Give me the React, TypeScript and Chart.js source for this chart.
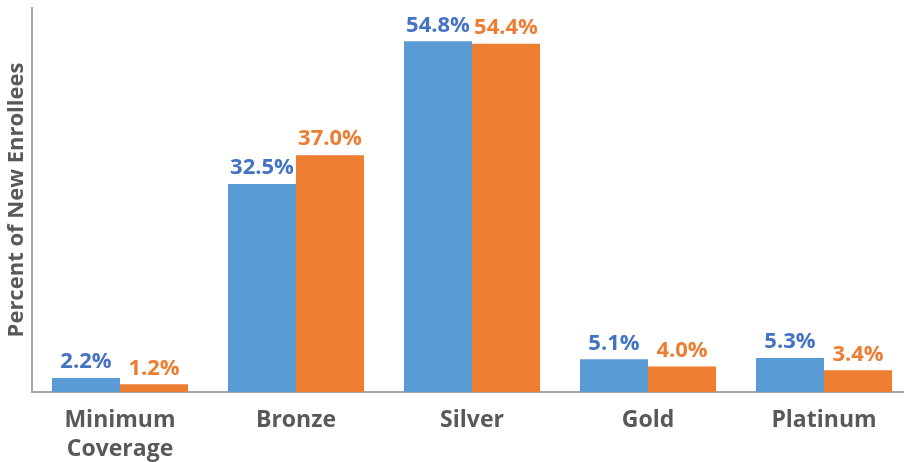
import React, { useEffect, useRef } from "react";
import { Chart, registerables } from "chart.js";

Chart.register(...registerables);

const categories: (string | string[])[] = [["Minimum", "Coverage"], "Bronze", "Silver", "Gold", "Platinum"];
const seriesA: number[] = [2.2, 32.5, 54.8, 5.1, 5.3];
const seriesB: number[] = [1.2, 37.0, 54.4, 4.0, 3.4];
const seriesAName = "Series 1";
const seriesBName = "Series 2";

const FONT = "'Open Sans', 'Noto Sans', sans-serif";

const labelPlugin = {
  id: "barValueLabels",
  afterDatasetsDraw(chart: any) {
    const ctx = chart.ctx;
    const colors = ["#4472C4", "#ED7D31"];
    chart.data.datasets.forEach((ds: any, i: number) => {
      const meta = chart.getDatasetMeta(i);
      meta.data.forEach((el: any, j: number) => {
        const v = ds.data[j] as number;
        ctx.save();
        ctx.font = `bold 22px ${FONT}`;
        ctx.fillStyle = colors[i];
        ctx.textAlign = "center";
        ctx.textBaseline = "bottom";
        ctx.fillText(v.toFixed(1) + "%", el.x, el.y - 5);
        ctx.restore();
      });
    });
  },
};

export default function App() {
  const ref = useRef<HTMLCanvasElement | null>(null);
  useEffect(() => {
    document.body.style.margin = "0";
    document.body.style.overflow = "hidden";
    if (!ref.current) return;
    const chart = new Chart(ref.current, {
      type: "bar",
      data: {
        labels: categories,
        datasets: [
          { label: seriesAName, data: seriesA, backgroundColor: "#5B9BD5", categoryPercentage: 0.773, barPercentage: 1 },
          { label: seriesBName, data: seriesB, backgroundColor: "#ED7D31", categoryPercentage: 0.773, barPercentage: 1 },
        ],
      },
      options: {
        responsive: false,
        animation: false,
        layout: { padding: { top: 8, left: 0, right: 0, bottom: 0 } },
        plugins: { legend: { display: false }, tooltip: { enabled: false } },
        scales: {
          x: {
            grid: { display: false, drawTicks: false },
            border: { display: true, color: "#A6A6A6", width: 2 },
            ticks: { color: "#595959", font: { family: FONT, size: 23, weight: "bold", lineHeight: 1.25 }, padding: 14, maxRotation: 0, autoSkip: false },
            afterFit: (s: any) => { s.height = 70; },
          },
          y: {
            min: 0,
            max: 60,
            grid: { display: false, drawTicks: false },
            border: { display: true, color: "#A6A6A6", width: 2 },
            ticks: { display: false },
            title: { display: true, text: "Percent of New Enrollees", color: "#595959", font: { family: FONT, size: 22, weight: "bold" }, padding: { top: 4, bottom: 0 } },
            afterFit: (s: any) => { s.width = 32; },
          },
        },
      },
      plugins: [labelPlugin],
    });
    return () => chart.destroy();
  }, []);
  return (
    <div style={{ width: 904, height: 462, overflow: "hidden", position: "relative" }}>
      <canvas ref={ref} width={912} height={462} style={{ display: "block", width: 912, height: 462 }} />
    </div>
  );
}
